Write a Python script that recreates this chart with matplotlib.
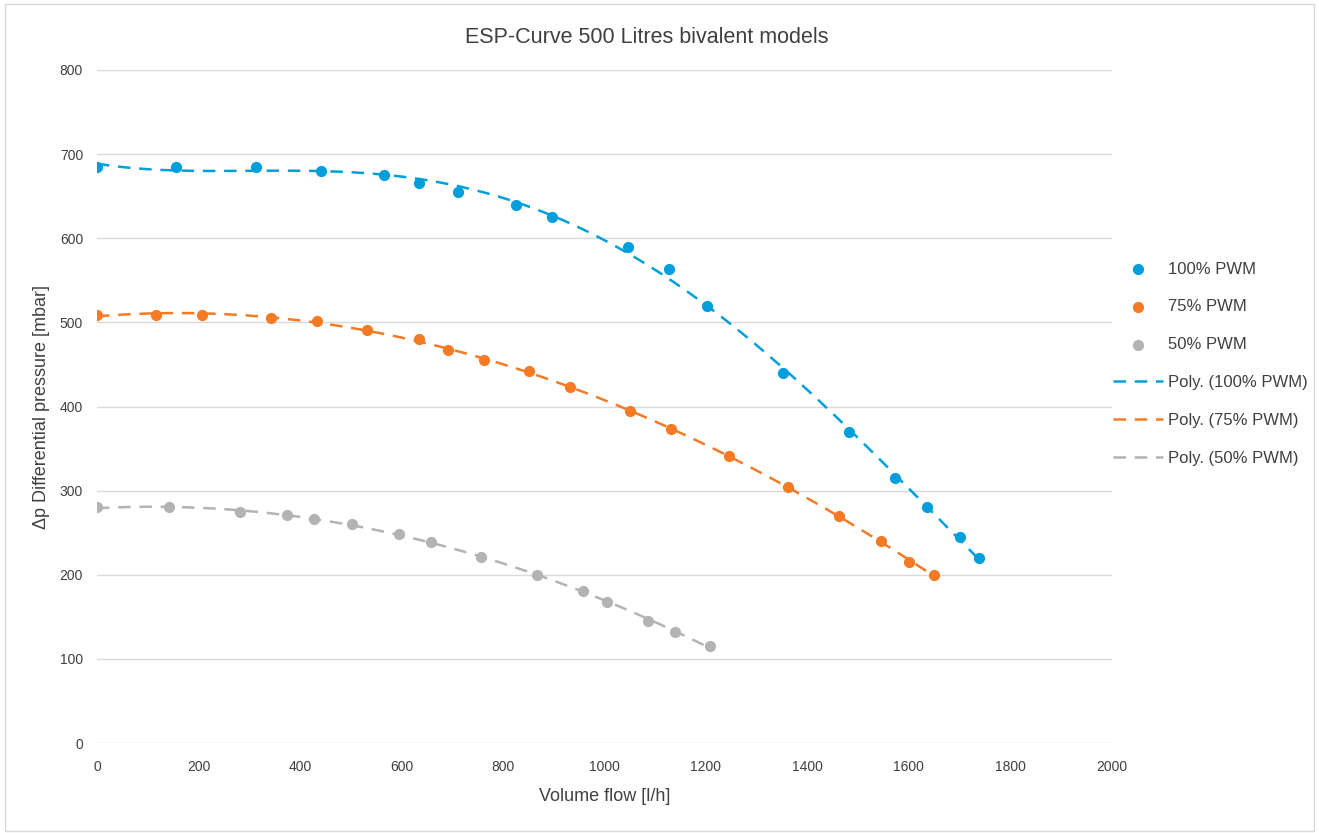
import numpy as np
import matplotlib
matplotlib.use("Agg")
from matplotlib import pyplot as plt
from matplotlib.patches import Rectangle

flow_100 = [0, 156, 313, 441, 566, 634, 711, 826, 897, 1046, 1127, 1202, 1352, 1482, 1572, 1635, 1700, 1738]
dp_100 = [685, 685, 685, 680, 675, 666, 655, 640, 625, 590, 564, 520, 440, 370, 315, 280, 245, 220]

flow_75 = [0, 116, 207, 343, 433, 532, 634, 691, 762, 851, 932, 1050, 1131, 1245, 1362, 1462, 1545, 1600, 1649]
dp_75 = [509, 509, 509, 505, 502, 491, 480, 467, 455, 442, 423, 395, 373, 341, 304, 270, 240, 215, 200]

flow_50 = [0, 142, 282, 374, 428, 502, 595, 658, 757, 867, 958, 1005, 1086, 1139, 1208]
dp_50 = [280, 280, 275, 271, 266, 260, 248, 239, 221, 200, 181, 168, 145, 132, 115]

labels = ["100% PWM", "75% PWM", "50% PWM"]
colors = ["#009fdb", "#f47a24", "#b3b3b3"]
poly_order = [4, 3, 3]

plt.rcParams['font.family'] = ['Liberation Sans', 'DejaVu Sans']

fig = plt.figure(figsize=(13.19, 8.33), dpi=100)
ax = fig.add_axes([0.0735, 0.108, 0.7695, 0.808])

series = [(flow_100, dp_100), (flow_75, dp_75), (flow_50, dp_50)]
dots = []
trends = []
for (x, y), lab, c, n in zip(series, labels, colors, poly_order):
    # Excel style polynomial trendline
    coef = np.polyfit(x, y, n)
    xs = np.linspace(0, max(x), 200)
    ln, = ax.plot(xs, np.polyval(coef, xs), color=c, lw=1.8, ls=(0, (5, 3.5)),
                  label="Poly. (" + lab + ")", zorder=2)
    sc = ax.scatter(x, y, s=65, color=c, label=lab, zorder=3, linewidths=0)
    dots.append(sc)
    trends.append(ln)

ax.set_xlim(0, 2000)
ax.set_ylim(0, 800)
ax.set_xticks(np.arange(0, 2001, 200))
ax.set_yticks(np.arange(0, 801, 100))
ax.grid(axis='y', color='#d9d9d9', lw=1)
ax.set_axisbelow(True)
for s in ax.spines.values():
    s.set_visible(False)
ax.tick_params(length=0, labelsize=10, colors='#404040', pad=12)
ax.tick_params(axis='y', pad=10)

ax.set_xlabel("Volume flow [l/h]", fontsize=13, color='#404040', labelpad=10)
ax.set_ylabel("\u0394p Differential pressure [mbar]", fontsize=13, color='#404040', labelpad=7)
fig.text(0.49, 0.955, "ESP-Curve 500 Litres bivalent models", ha='center', va='center',
         fontsize=15.5, color='#404040')

leg = fig.legend(handles=dots + trends, loc='upper left', bbox_to_anchor=(0.8385, 0.694),
                 frameon=False, fontsize=12, labelspacing=1.37, handlelength=3.0,
                 handletextpad=0.35, labelcolor='#404040', borderaxespad=0)

# light border around the chart area
fig.add_artist(Rectangle((0.004, 0.003), 0.992, 0.992, transform=fig.transFigure,
                         fill=False, edgecolor='#d9d9d9', lw=1))

fig.savefig("out.png", dpi=100)
